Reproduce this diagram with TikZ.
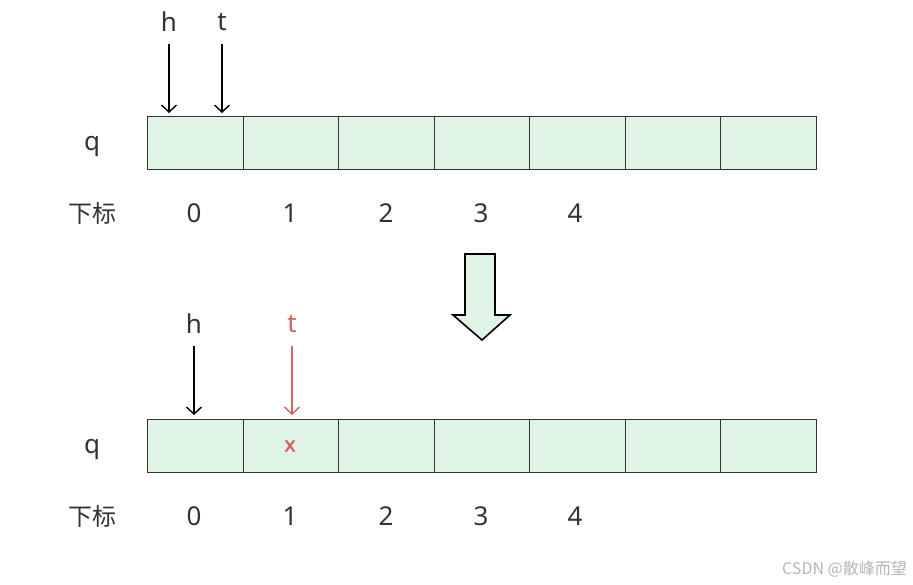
\documentclass[tikz,border=0pt]{standalone}
\usepackage{fontspec}
\usetikzlibrary{arrows.meta}
\setmainfont{Noto Sans}
\newfontfamily\cjk{Noto Sans CJK SC}
\newfontfamily\boldsans[FakeBold=2.5]{Noto Sans}
\definecolor{cellgreen}{HTML}{DFF4E4}
\definecolor{txtgray}{HTML}{333333}
\definecolor{redp}{HTML}{D9605E}
\definecolor{wm}{HTML}{B5B5B5}
\begin{document}
\begin{tikzpicture}[x=1pt,y=-1pt,
  cellbox/.style={draw=txtgray, line width=0.9pt, fill=cellgreen, minimum width=95.6pt, minimum height=53pt, inner sep=0pt, anchor=north west},
  lbl/.style={text=txtgray, font=\fontsize{26}{26}\selectfont, inner sep=0pt},
  cjklbl/.style={text=txtgray, font=\cjk\fontsize{24}{24}\selectfont, inner sep=0pt},
  ptr/.style={-{Straight Barb[length=7pt,width=15pt,line width=1.4pt]}, line width=1.4pt},
  bigarrow/.style={draw=black, line width=1.6pt, fill=cellgreen, line join=miter}]
\useasboundingbox (0,0) rectangle (913,585);
\foreach \i in {0,...,6} {
  \node[cellbox] (a\i) at (147+\i*95.57,116) {};
}
\foreach \i in {0,...,6} {
  \node[cellbox] (b\i) at (147+\i*95.57,419) {};
}
\node[lbl] (qa) at (92,147) {q};
\node[lbl] (qb) at (92,450) {q};
\node[cjklbl] (xa) at (92,213) {下标};
\node[cjklbl] (xb) at (92,516) {下标};
\foreach \i/\x in {0/194,1/290,2/386,3/481,4/575} {
  \node[lbl] (ia\i) at (\x,213) {\i};
  \node[lbl] (ib\i) at (\x,516) {\i};
}
\node[lbl] (ha) at (169,22) {h};
\node[lbl] (ta) at (222,22) {t};
\coordinate (hae) at (169,113);
\coordinate (tae) at (222,113);
\draw[ptr, black] (169,44) -- (hae);
\draw[ptr, black] (222,44) -- (tae);
\node[lbl] (hb) at (194,324) {h};
\node[lbl, text=redp] (tb) at (292,324) {t};
\coordinate (hbe) at (194,415);
\coordinate (tbe) at (292,415);
\draw[ptr, black] (194,346) -- (hbe);
\draw[ptr, redp] (292,346) -- (tbe);
\node[lbl, text=redp, font=\boldsans\fontsize{20}{20}\selectfont] (xv) at (290,446) {x};
\draw[bigarrow] (465,254) -- (495,254) -- (495,315) -- (510,315) -- (482,340) -- (453,315) -- (465,315) -- cycle;
\node[text=wm, font=\cjk\fontsize{16}{16}\selectfont, anchor=east, inner sep=0pt] (wmk) at (907,569) {CSDN @散峰而望};
\end{tikzpicture}
\end{document}
